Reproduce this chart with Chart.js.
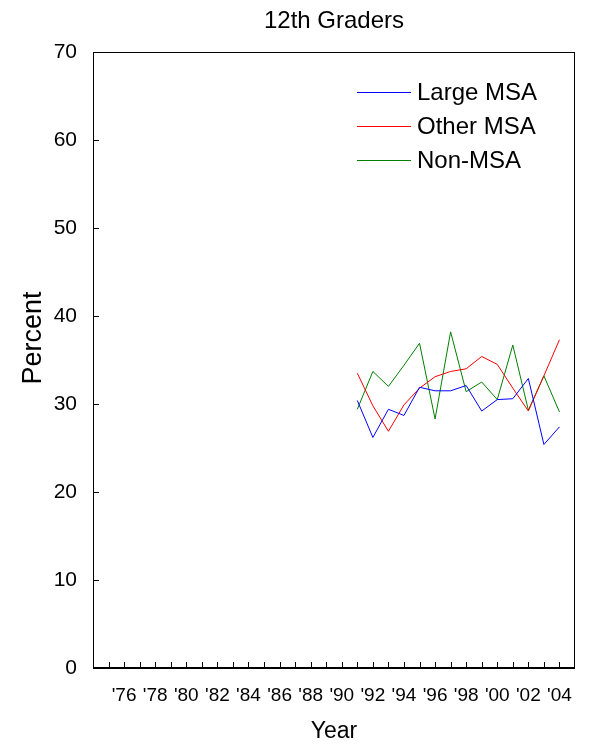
<!DOCTYPE html>
<html>
<head>
<meta charset="utf-8">
<script src="https://cdn.jsdelivr.net/npm/chart.js@4"></script>
<style>
  body { margin: 0; background: #fff; }
</style>
</head>
<body>
<canvas id="graph" width="590" height="748"></canvas>
<script>
// данные по годам
const years = [1991, 1992, 1993, 1994, 1995, 1996, 1997, 1998, 1999, 2000, 2001, 2002, 2003, 2004];
const largeMSA = [30.4, 26.2, 29.4, 28.7, 31.9, 31.5, 31.5, 32.1, 29.2, 30.5, 30.6, 32.9, 25.4, 27.4];
const otherMSA = [33.5, 29.8, 26.9, 29.9, 31.8, 33.1, 33.7, 34.0, 35.4, 34.5, 31.8, 29.2, 33.2, 37.3];
const nonMSA = [29.4, 33.7, 32.0, 34.4, 36.9, 28.3, 38.2, 31.4, 32.5, 30.5, 36.7, 29.3, 33.2, 29.1];
const seriesNames = ['Large MSA', 'Other MSA', 'Non-MSA'];
const yTicks = [0, 10, 20, 30, 40, 50, 60, 70];
const xLabelYears = [1976, 1978, 1980, 1982, 1984, 1986, 1988, 1990, 1992, 1994, 1996, 1998, 2000, 2002, 2004];

const FONT = 'Arial, "Liberation Sans", sans-serif';

function toPoints(arr) {
    return arr.map((v, i) => ({ x: years[i], y: v }));
}

// рамка, засечки, подписи и легенда
const decor = {
    id: 'decor',
    afterDraw(chart) {
        const c = chart.ctx;
        const a = chart.chartArea;
        const xs = chart.scales.x;
        const ys = chart.scales.y;
        c.save();
        c.strokeStyle = '#000';
        c.lineWidth = 1;
        c.strokeRect(a.left + 0.5, a.top + 0.5, a.right - a.left - 1, a.bottom - a.top);
        c.lineWidth = 2;
        c.beginPath();
        c.moveTo(a.left, a.bottom);
        c.lineTo(a.right, a.bottom);
        c.stroke();

        c.lineWidth = 1;
        c.beginPath();
        for (let yr = 1975; yr <= 2004; yr++) {
            const px = Math.round(xs.getPixelForValue(yr)) + 0.5;
            c.moveTo(px, a.bottom);
            c.lineTo(px, a.bottom - 6);
        }
        yTicks.forEach(t => {
            const py = Math.round(ys.getPixelForValue(t)) + 0.5;
            c.moveTo(a.left, py);
            c.lineTo(a.left + 6, py);
        });
        c.stroke();

        c.fillStyle = '#000';
        c.textAlign = 'center';
        c.textBaseline = 'middle';
        c.font = '24px ' + FONT;
        c.fillText('12th Graders', (a.left + a.right) / 2, 21);
        c.font = '23px ' + FONT;
        c.fillText('Year', (a.left + a.right) / 2, 732);

        c.save();
        c.translate(34, 338);
        c.rotate(-Math.PI / 2);
        c.font = '27px ' + FONT;
        c.fillText('Percent', 0, 0);
        c.restore();

        // легенда
        c.textAlign = 'left';
        c.font = '24px ' + FONT;
        chart.data.datasets.forEach((ds, i) => {
            const ly = 92 + i * 34;
            c.strokeStyle = ds.borderColor;
            c.lineWidth = 1;
            c.beginPath();
            c.moveTo(357, ly + 0.5);
            c.lineTo(411, ly + 0.5);
            c.stroke();
            c.fillStyle = '#000';
            c.fillText(ds.label, 417, ly + 1);
        });
        c.restore();
    }
};

const ctx = document.getElementById('graph');
new Chart(ctx, {
    type: 'line',
    data: {
        datasets: [
            { label: seriesNames[0], data: toPoints(largeMSA), borderColor: '#0000ff' },
            { label: seriesNames[1], data: toPoints(otherMSA), borderColor: '#ff0000' },
            { label: seriesNames[2], data: toPoints(nonMSA), borderColor: '#008000' }
        ].map(d => Object.assign(d, { borderWidth: 1, pointRadius: 0, tension: 0, fill: false }))
    },
    options: {
        responsive: false,
        animation: false,
        layout: { padding: { top: 52, right: 15, left: 0, bottom: 0 } },
        plugins: {
            legend: { display: false },
            title: { display: false },
            tooltip: { enabled: false }
        },
        scales: {
            x: {
                type: 'linear',
                min: 1974,
                max: 2005,
                grid: { display: false, drawTicks: false },
                border: { display: false },
                afterBuildTicks: scale => {
                    scale.ticks = xLabelYears.map(v => ({ value: v }));
                },
                afterFit: scale => { scale.height = 80; },
                ticks: {
                    autoSkip: false,
                    maxRotation: 0,
                    color: '#000',
                    padding: 16,
                    font: { size: 19, family: FONT },
                    callback: v => "'" + String(v).slice(2)
                }
            },
            y: {
                min: 0,
                max: 70,
                grid: { display: false, drawTicks: false },
                border: { display: false },
                afterBuildTicks: scale => {
                    scale.ticks = yTicks.map(v => ({ value: v }));
                },
                afterFit: scale => { scale.width = 93; },
                ticks: {
                    color: '#000',
                    padding: 16,
                    font: { size: 21, family: FONT }
                }
            }
        }
    },
    plugins: [decor]
});
</script>
</body>
</html>
